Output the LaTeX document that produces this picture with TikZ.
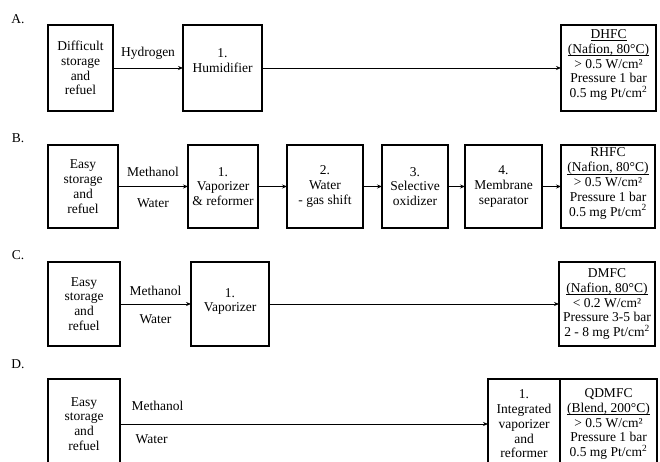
\documentclass[tikz,border=0pt]{standalone}
\usepackage{fontspec}
\setmainfont{Liberation Serif}
\usepackage{tikz}
\usetikzlibrary {arrows.meta,
                 positioning}
\newcommand{\ulin}[1]{\leavevmode\setbox0\hbox{#1}%
    \rlap{\rule[-2.4pt]{\wd0}{0.6pt}}\box0}
\tikzset{
        every node/.style={font=\fontsize{13.5}{14.8}\selectfont},
        box/.style={draw, line width=1.4pt, align=center, inner sep=0pt,
                    outer sep=0pt},
        srcbox/.style={box, anchor=north west},
        flow/.style={-{Stealth[length=5pt, width=4pt]}, line width=0.8pt},
        rowlabel/.style={inner sep=0pt},
 }

\begin{document}
\begin{tikzpicture}[x=1pt, y=1pt]
    \useasboundingbox (0,0) rectangle (660,462);
    \clip (0,0) rectangle (660,462);

    % A. direct hydrogen
    \node[rowlabel] (la) at (18,443) {A.};
    \node[srcbox, minimum width=65pt, minimum height=86pt] (a0) at (48,437)
        {Difficult\\storage\\and\\refuel};
    \node[box, minimum width=79pt, minimum height=86pt, right=70pt of a0] (a1)
        {1.\\Humidifier\\[0pt]};
    \node[box, minimum width=95pt, minimum height=86pt, right=299pt of a1] (a2)
        {\ulin{DHFC}\\\ulin{(Nafion, 80°C)}\\> 0.5 W/cm²\\Pressure 1 bar\\0.5 mg Pt/cm\textsuperscript{2}\\[-6pt]};

    \draw[flow] (a0) -- node[above=5pt] (ha) {Hydrogen} (a1);
    \draw[flow] (a1) -- (a2);

    % B. reformed hydrogen
    \node[rowlabel] (lb) at (18,324) {B.};
    \node[srcbox, minimum width=70pt, minimum height=83pt] (b0) at (48,317)
        {Easy\\storage\\and\\refuel};
    \node[box, minimum width=70pt, minimum height=83pt, right=70pt of b0] (b1)
        {1.\\Vaporizer\\\& reformer};
    \node[box, minimum width=76pt, minimum height=83pt, right=29pt of b1] (b2)
        {2.\\Water\\- gas shift};
    \node[box, minimum width=66pt, minimum height=83pt, right=19pt of b2] (b3)
        {3.\\Selective\\oxidizer};
    \node[box, minimum width=77pt, minimum height=83pt, right=17pt of b3] (b4)
        {4.\\Membrane\\separator};
    \node[box, minimum width=94pt, minimum height=83pt, right=19pt of b4] (b5)
        {RHFC\\\ulin{(Nafion, 80°C)}\\> 0.5 W/cm²\\Pressure 1 bar\\0.5 mg Pt/cm\textsuperscript{2}\\[-6pt]};

    \draw[flow] (b0) -- node[above=6pt] (mb) {Methanol}
                        node[below=8pt] (wb) {Water} (b1);
    \draw[flow] (b1) -- (b2);
    \draw[flow] (b2) -- (b3);
    \draw[flow] (b3) -- (b4);
    \draw[flow] (b4) -- (b5);

    % C. direct methanol
    \node[rowlabel] (lc) at (18,207) {C.};
    \node[srcbox, minimum width=72pt, minimum height=84pt] (c0) at (48,200)
        {Easy\\storage\\and\\refuel};
    \node[box, minimum width=78pt, minimum height=84pt, right=71pt of c0] (c1)
        {1.\\Vaporizer\\[-7pt]};
    \node[box, minimum width=96pt, minimum height=84pt, right=290pt of c1] (c2)
        {DMFC\\\ulin{(Nafion, 80°C)}\\< 0.2 W/cm²\\Pressure 3-5 bar\\2 - 8 mg Pt/cm\textsuperscript{2}};

    \draw[flow] (c0) -- node[above=5pt] (mc) {Methanol}
                        node[below=7pt] (wc) {Water} (c1);
    \draw[flow] (c1) -- (c2);

    % D. integrated reformer
    \node[rowlabel] (ld) at (18,98) {D.};
    \node[srcbox, minimum width=72pt, minimum height=90pt] (d0) at (48,83)
        {Easy\\storage\\and\\refuel};
    \node[box, minimum width=72pt, minimum height=90pt, right=368pt of d0] (d1)
        {1.\\Integrated\\vaporizer\\and\\reformer};
    \node[box, minimum width=97pt, minimum height=90pt, right=0pt of d1] (d2)
        {QDMFC\\\ulin{(Blend, 200°C)}\\> 0.5 W/cm²\\Pressure 1 bar\\0.5 mg Pt/cm\textsuperscript{2}};

    \draw[flow] (d0) -- node[pos=0, above right=10pt and 8pt] (md) {Methanol}
                        node[pos=0, below right=7pt and 12pt] (wd) {Water} (d1);
\end{tikzpicture}
\end{document}
